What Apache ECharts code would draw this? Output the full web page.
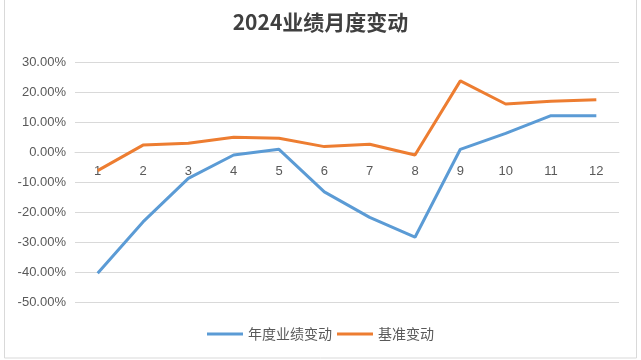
<!DOCTYPE html>
<html><head><meta charset="utf-8">
<script src="https://cdn.jsdelivr.net/npm/echarts@6/dist/echarts.min.js"></script>
<style>html,body{margin:0;padding:0;background:#fff}#c{width:641px;height:360px}</style>
</head><body><div id="c"></div>
<script>
const months = ['1','2','3','4','5','6','7','8','9','10','11','12'];
const annualChange = [-40.4, -23.3, -8.8, -1.0, 0.9, -13.3, -21.8, -28.4, 0.9, 6.2, 12.1, 12.1];
const benchmarkChange = [-6.2, 2.3, 2.9, 4.9, 4.6, 1.8, 2.6, -1.0, 23.7, 16.0, 16.9, 17.4];
const seriesNames = ['年度业绩变动', '基准变动'];
const titleText = '2024业绩月度变动';

const chart = echarts.init(document.getElementById('c'), null, {renderer:'canvas'});
chart.setOption({
  animation:false,
  backgroundColor:'#fff',
  graphic:[{type:'rect', shape:{x:4.5,y:-1,width:632,height:359}, style:{fill:'none', stroke:'#d9d9d9', lineWidth:1}, z:-1}],
  title:{text:titleText, left:'center', top:7,
    textStyle:{fontFamily:'Noto Sans CJK SC', fontSize:21, fontWeight:'bold', color:'#404040'}},
  legend:{bottom:14, left:'center', itemWidth:36, itemHeight:3, itemGap:5,
    icon:'rect',
    textStyle:{fontFamily:'Noto Sans CJK SC', fontSize:14, color:'#595959'},
    data:seriesNames},
  grid:{left:75, right:22, top:62, bottom:58, containLabel:false},
  xAxis:{type:'category', data:months, boundaryGap:true, offset:-150,
    axisLine:{onZero:false, lineStyle:{color:'#d9d9d9'}},
    axisTick:{show:false},
    axisLabel:{margin:13, fontFamily:'Liberation Sans', fontSize:13, color:'#595959'}},
  yAxis:{type:'value', min:-50, max:30, interval:10,
    axisLine:{show:false}, axisTick:{show:false},
    splitLine:{lineStyle:{color:'#d9d9d9'}},
    axisLabel:{margin:9, fontFamily:'Liberation Sans', fontSize:13, color:'#595959',
      formatter:v=>v.toFixed(2)+'%'}},
  series:[
    {name:seriesNames[0], type:'line', data:annualChange, symbol:'none',
      lineStyle:{width:3, color:'#5B9BD5'}, itemStyle:{color:'#5B9BD5'}},
    {name:seriesNames[1], type:'line', data:benchmarkChange, symbol:'none',
      lineStyle:{width:3, color:'#ED7D31'}, itemStyle:{color:'#ED7D31'}}
  ]
});
</script></body></html>
